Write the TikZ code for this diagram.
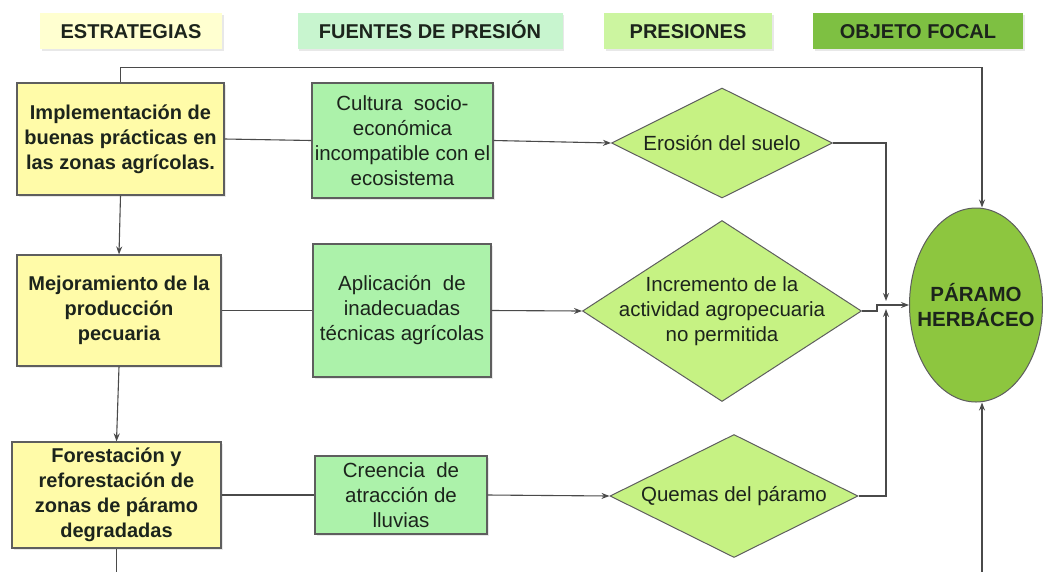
\documentclass[tikz,border=0pt]{standalone}
\usepackage{fontspec}
\setmainfont{Liberation Sans}
\usetikzlibrary{shapes.geometric,arrows.meta,shadows}
\definecolor{hdrS}{HTML}{FFFFD0}
\definecolor{hdrF}{HTML}{C8F5CF}
\definecolor{hdrP}{HTML}{CCF5A0}
\definecolor{hdrO}{HTML}{7EC042}
\definecolor{estrcol}{HTML}{FFFBA8}
\definecolor{fuencol}{HTML}{ACF2AA}
\definecolor{prescol}{HTML}{C6F283}
\definecolor{focalcol}{HTML}{8DC63F}
\definecolor{linecol}{HTML}{4A4A4A}
\definecolor{boxline}{HTML}{5E5E5E}
\definecolor{txtcol}{HTML}{1C241C}
\begin{document}
\begin{tikzpicture}[x=1pt,y=-1pt,>={Stealth[length=8pt,width=6pt]},
  line/.style={draw=linecol,line width=1.1pt},
  shd/.style={drop shadow={opacity=0.18,shadow xshift=1.5pt,shadow yshift=-1.5pt}},
  hdr/.style={fill=#1,shd,text=txtcol,font=\bfseries\fontsize{20}{24}\selectfont,minimum height=36,text height=14.5,text depth=0,inner ysep=10.75,inner xsep=0pt},
  estr/.style={draw=boxline,line width=1.2pt,fill=estrcol,shd,text=txtcol,align=center,font=\bfseries\fontsize{20}{25}\selectfont,inner sep=0pt},
  fuen/.style={draw=boxline,line width=1.2pt,fill=fuencol,shd,text=txtcol,align=center,font=\fontsize{20.5}{25}\selectfont,inner sep=0pt},
  pres/.style={diamond,draw=boxline,line width=1pt,fill=prescol,inner sep=0pt},
  prestxt/.style={text=txtcol,align=center,font=\fontsize{20.5}{25}\selectfont,inner sep=0pt},
  focal/.style={ellipse,draw=boxline,line width=1pt,fill=focalcol,inner sep=0pt},
  focaltxt/.style={text=txtcol,align=center,font=\bfseries\fontsize{20.5}{25}\selectfont,inner sep=0pt}]
  \useasboundingbox (0,0) rectangle (1043,571);
  \clip (0,0) rectangle (1043,571);
  % cabecera
  \node[hdr=hdrS,minimum width=182] (hS) at (131,31) {ESTRATEGIAS};
  \node[hdr=hdrF,minimum width=265] (hF) at (430,31) {FUENTES DE PRESIÓN};
  \node[hdr=hdrP,minimum width=168] (hP) at (688,31) {PRESIONES};
  \node[hdr=hdrO,minimum width=210] (hO) at (918,31) {OBJETO FOCAL};
  % estrategias
  \node[estr,minimum width=207,minimum height=112] (s1) at (120.5,139) {Implementación de\\buenas prácticas en\\las zonas agrícolas.};
  \node[estr,minimum width=204,minimum height=111] (s2) at (119,310.5) {Mejoramiento de la\\producción\\pecuaria};
  \node[estr,minimum width=209,minimum height=106] (s3) at (116.5,495) {Forestación y\\reforestación de\\zonas de páramo\\degradadas};
  % fuentes de presion
  \node[fuen,minimum width=181,minimum height=115] (f1) at (402.5,140.5) {Cultura\ \ socio-\\económica\\incompatible con el\\ecosistema};
  \node[fuen,minimum width=178,minimum height=133] (f2) at (402,310.5) {Aplicación\ \ de\\inadecuadas\\técnicas agrícolas};
  \node[fuen,minimum width=172,minimum height=78] (f3) at (401,495) {Creencia\ \ de\\atracción de\\lluvias};
  % presiones
  \node[pres,minimum width=221,minimum height=110] (d1) at (722,143) {};
  \node[prestxt] (d1t) at (d1) {Erosión del suelo};
  \node[pres,minimum width=279,minimum height=181] (d2) at (722,311) {};
  \node[prestxt] (d2t) at (d2) {Incremento de la\\actividad agropecuaria\\no permitida};
  \node[pres,minimum width=248,minimum height=123] (d3) at (734,496) {};
  \node[prestxt] (d3t) at (d3) {Quemas del páramo};
  % objeto focal
  \node[focal,minimum width=133,minimum height=194] (pa) at (976,305) {};
  \node[focaltxt] (pat) at (pa) {PÁRAMO\\HERBÁCEO};
  \coordinate (jtop) at (886,301);
  \coordinate (jbot) at (886,309);
  % conectores
  \draw[line,line width=1.6pt,->] (s1.north) -- ++(0,-15) -| ([xshift=6pt]pa.north);
  \draw[line,->] (s1.south) -- (s2.north);
  \draw[line,->] (s2.south) -- (s3.north);
  \draw[line] (s1.east) -- (f1.west);
  \draw[line] (s2.east) -- (f2.west);
  \draw[line] (s3.east) -- (f3.west);
  \draw[line,->] (f1.east) -- (d1.west);
  \draw[line,->] (f2.east) -- (d2.west);
  \draw[line,->] (f3.east) -- (d3.west);
  \draw[line,->] (d1.east) -| (jtop);
  \draw[line,->] (d3.east) -| (jbot);
  \draw[line,->] (d2.east) -- ++(15,0) |- (pa.west);
  \draw[line,->] (s3.south) -- ++(0,40) -| ([xshift=6pt]pa.south);
\end{tikzpicture}
\end{document}
